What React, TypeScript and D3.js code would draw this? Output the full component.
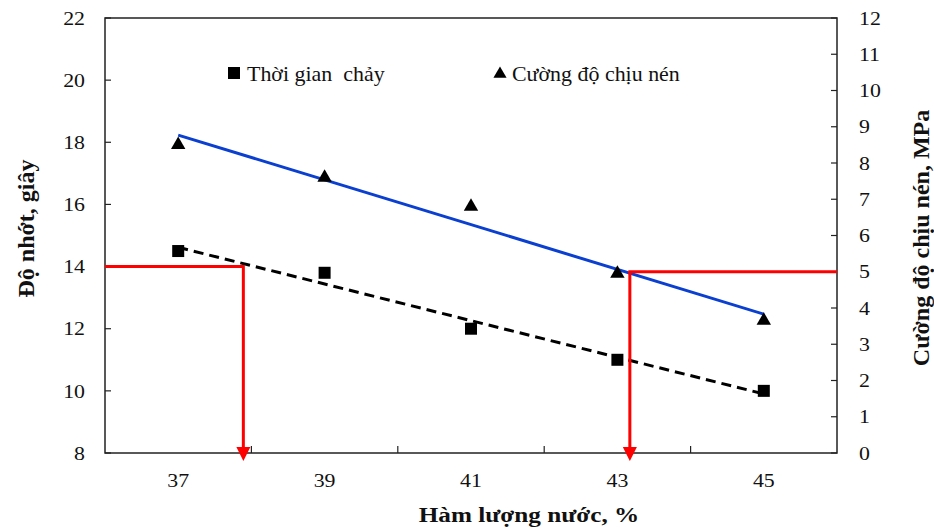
import React from 'react';
import * as d3 from 'd3';

const width = 934;
const height = 530;
const margin = { top: 18, right: 97, bottom: 77, left: 105 };
const red = '#ff0000';
const blue = '#0a3fd0';
const font = 'Liberation Serif';

// water content, %
const waterContent = [37, 39, 41, 43, 45];
// flow time, seconds (left axis)
const flowTime = [14.5, 13.8, 12.0, 11.0, 10.0];
// compressive strength, MPa (right axis)
const strength = [8.5, 7.6, 6.8, 4.95, 3.65];

const xLabels = [37, 39, 41, 43, 45];
const xTicks = [38, 40, 42, 44];
const leftTicks = [8, 10, 12, 14, 16, 18, 20, 22];
const rightTicks = [0, 1, 2, 3, 4, 5, 6, 7, 8, 9, 10, 11, 12];

const flowGuide = { x: 37.89, y: 14 };
const strengthGuide = { x: 43.17, y: 5 };

function fit(xs: number[], ys: number[]) {
  const mx = d3.mean(xs)!;
  const my = d3.mean(ys)!;
  const slope =
    d3.sum(xs, (x, i) => (x - mx) * (ys[i] - my)) / d3.sum(xs, x => (x - mx) ** 2);
  return (x: number) => my + slope * (x - mx);
}

// the source picture is a bit stretched sideways, so text is widened a little
function Label({ x, y, anchor = 'middle', size, sx = 1, bold = false, children }: any) {
  return (
    <text transform={`translate(${x},${y}) scale(${sx},1)`} textAnchor={anchor} dy="0.35em"
      fontSize={size} fontWeight={bold ? 'bold' : 'normal'} fill="#111"
      style={{ fontFamily: font, whiteSpace: 'pre' }}>{children}</text>
  );
}

export default function App() {
  const x = d3.scaleLinear().domain([36, 46]).range([margin.left, width - margin.right]);
  const yL = d3.scaleLinear().domain([8, 22]).range([height - margin.bottom, margin.top]);
  const yR = d3.scaleLinear().domain([0, 12]).range([height - margin.bottom, margin.top]);
  const x0 = margin.left;
  const x1 = width - margin.right;
  const y0 = height - margin.bottom;
  const y1 = margin.top;

  const flowFit = fit(waterContent, flowTime);
  const strengthFit = fit(waterContent, strength);
  const ends = [waterContent[0], waterContent[waterContent.length - 1]];

  const flowLine = d3.line<number>().x(d => x(d)).y(d => yL(flowFit(d)))(ends)!;
  const strengthLine = d3.line<number>().x(d => x(d)).y(d => yR(strengthFit(d)))(ends)!;

  const tri = d3.symbol().type(d3.symbolTriangle).size(90)()!;
  const sq = 12;

  const arrow = (ax: number) => {
    const tipY = y0 + 8;
    return `M${ax - 7},${tipY - 14} L${ax + 7},${tipY - 14} L${ax},${tipY} Z`;
  };

  return (
    <svg width={width} height={height} style={{ position: 'absolute', left: 0, top: 0, fontFamily: font }}>
      <rect width={width} height={height} fill="#fff" />
      {/* frame */}
      <rect x={x0} y={y1} width={x1 - x0} height={y0 - y1} fill="none" stroke="#222" strokeWidth={1.5} />

      {/* left ticks */}
      {leftTicks.map(t => (
        <g key={'l' + t}>
          <line x1={x0} x2={x0 + 6} y1={yL(t)} y2={yL(t)} stroke="#222" strokeWidth={1.2} />
          <Label x={85} y={yL(t)} anchor="end" size={19} sx={1.15}>{t}</Label>
        </g>
      ))}
      {/* right ticks */}
      {rightTicks.map(t => (
        <g key={'r' + t}>
          <line x1={x1 - 6} x2={x1} y1={yR(t)} y2={yR(t)} stroke="#222" strokeWidth={1.2} />
          <Label x={859} y={yR(t)} anchor="start" size={19} sx={1.15}>{t}</Label>
        </g>
      ))}
      {/* bottom ticks */}
      {xTicks.map(t => (
        <line key={'x' + t} x1={x(t)} x2={x(t)} y1={y0} y2={y0 - 7} stroke="#222" strokeWidth={1.2} />
      ))}
      {xLabels.map(t => (
        <Label key={'xl' + t} x={x(t)} y={480} size={19} sx={1.15}>{t}</Label>
      ))}

      {/* axis titles */}
      <text transform={`translate(26,${(y0 + y1) / 2 - 7}) rotate(-90)`} textAnchor="middle" dy="0.35em"
        fontSize={24} fontWeight="bold" fill="#111" style={{ fontFamily: font }}>Độ nhớt, giây</text>
      <text transform={`translate(921,238) rotate(-90)`} textAnchor="middle" dy="0.35em"
        fontSize={24} fontWeight="bold" fill="#111" style={{ fontFamily: font }}>Cường độ chịu nén, MPa</text>
      <Label x={529} y={515} size={21} sx={1.2} bold>Hàm lượng nước, %</Label>

      {/* trend lines */}
      <path d={strengthLine} fill="none" stroke={blue} strokeWidth={3} />
      <path d={flowLine} fill="none" stroke="#000" strokeWidth={3} strokeDasharray="10,6" />

      {/* red guides */}
      <path d={`M${x0},${yL(flowGuide.y)} H${x(flowGuide.x)} V${y0 - 6}`} fill="none" stroke={red} strokeWidth={3} />
      <path d={arrow(x(flowGuide.x))} fill={red} />
      <path d={`M${x1},${yR(strengthGuide.y)} H${x(strengthGuide.x)} V${y0 - 6}`} fill="none" stroke={red} strokeWidth={3} />
      <path d={arrow(x(strengthGuide.x))} fill={red} />

      {/* markers */}
      {waterContent.map((w, i) => (
        <rect key={'s' + w} x={x(w) - sq / 2} y={yL(flowTime[i]) - sq / 2} width={sq} height={sq} fill="#000" />
      ))}
      {waterContent.map((w, i) => (
        <path key={'t' + w} d={tri} transform={`translate(${x(w)},${yR(strength[i])})`} fill="#000" />
      ))}

      {/* legend */}
      <rect x={228} y={67} width={12} height={12} fill="#000" />
      <Label x={247} y={74} anchor="start" size={20.5} sx={1.07}>Thời gian  chảy</Label>
      <path d={d3.symbol().type(d3.symbolTriangle).size(75)()!} transform="translate(500,74)" fill="#000" />
      <Label x={512} y={74} anchor="start" size={20.5} sx={1.07}>Cường độ chịu nén</Label>
    </svg>
  );
}
